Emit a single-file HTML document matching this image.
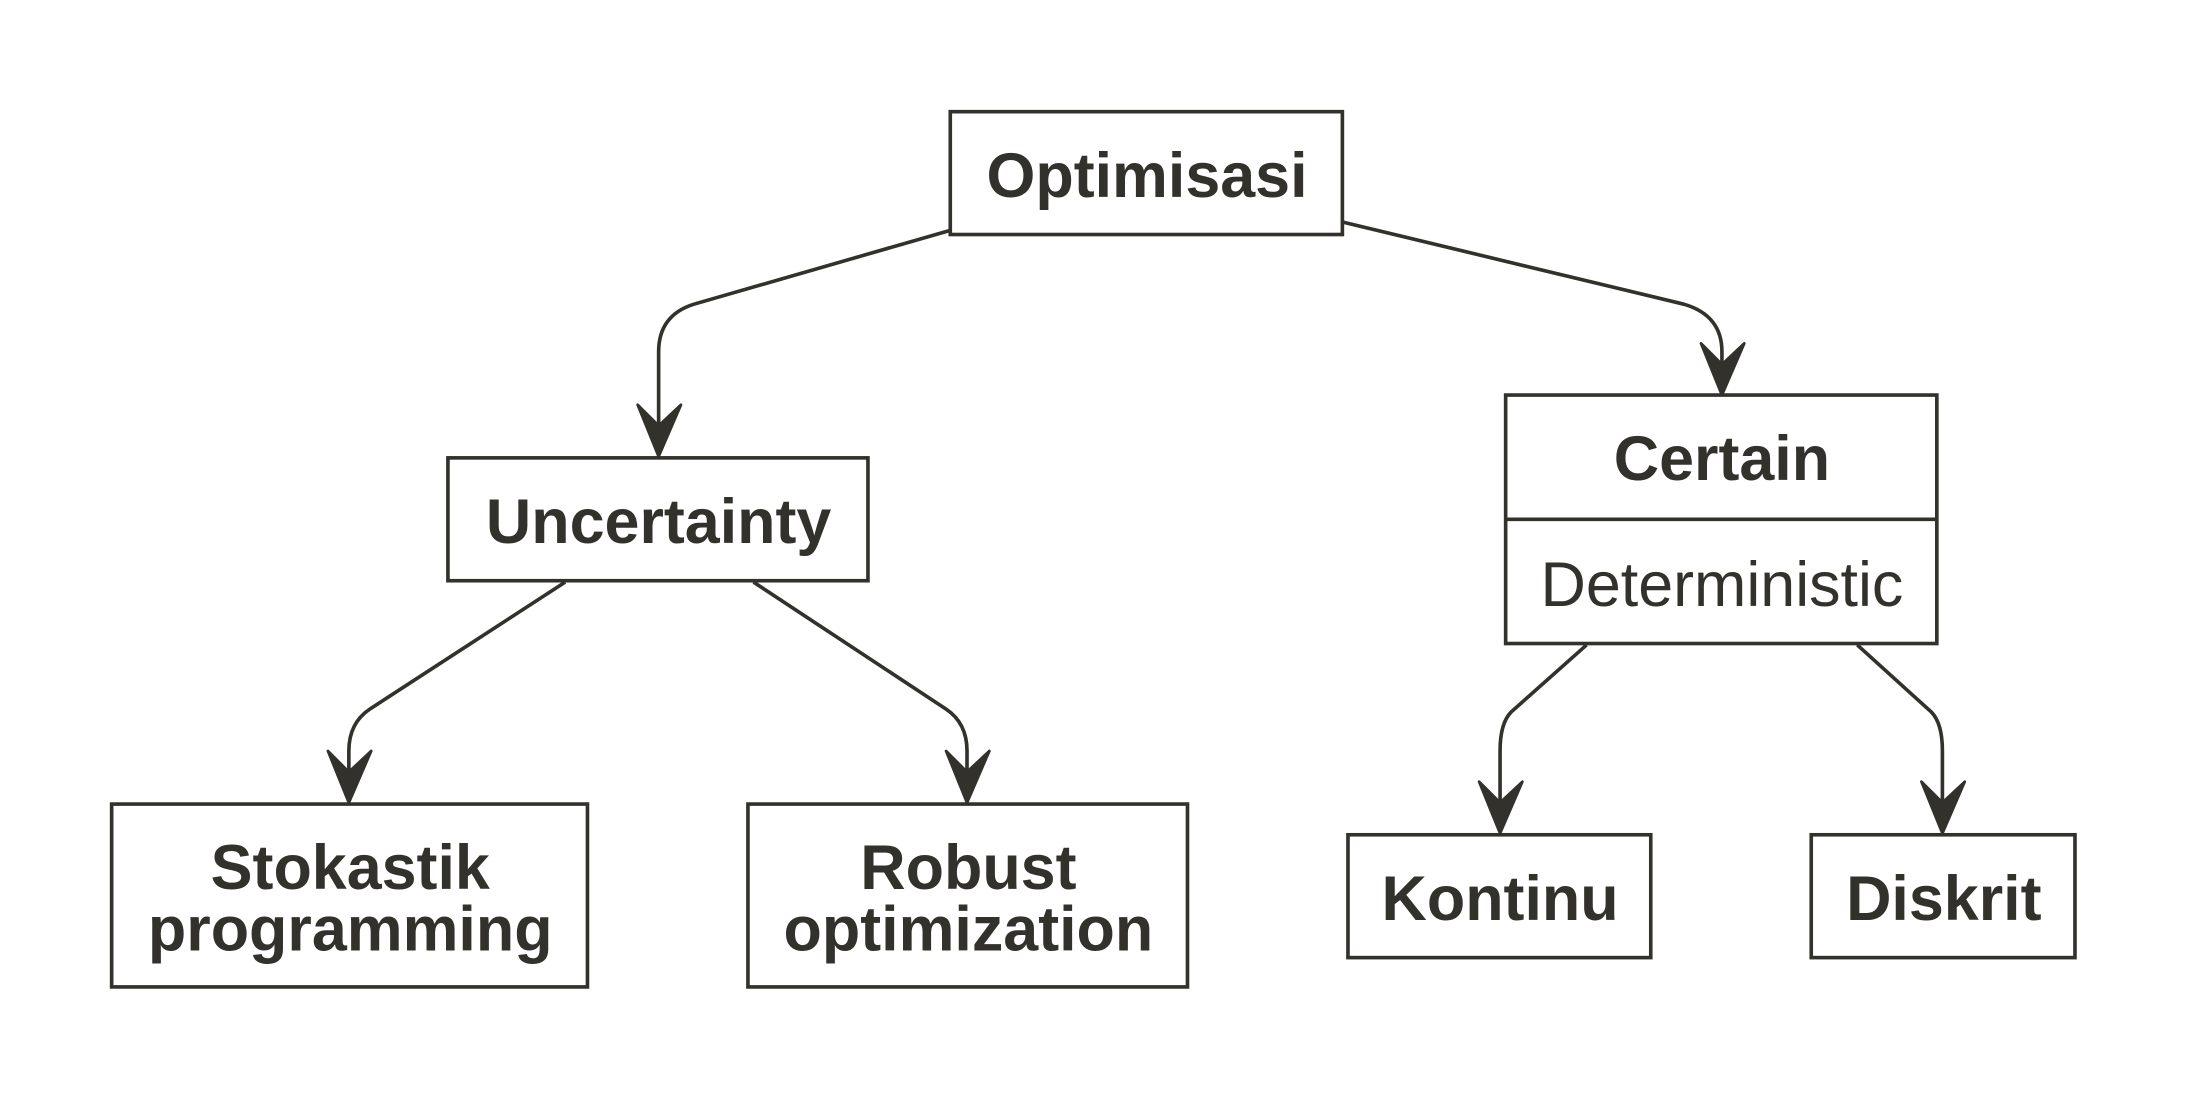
<!DOCTYPE html>
<html><head><meta charset="utf-8"><style>
html,body{margin:0;padding:0;background:#fff;}
svg{display:block;}
text{font-family:"Liberation Sans",Arial,sans-serif;fill:#33312c;}
</style></head><body>
<svg width="2188" height="1100" viewBox="0 0 1568 788" preserveAspectRatio="none" xmlns="http://www.w3.org/2000/svg">
<defs>
<marker id="a" viewBox="0 0 32 40" refX="16" refY="38" markerWidth="32" markerHeight="40" markerUnits="userSpaceOnUse" orient="auto">
</marker>
</defs>
<g fill="#fff" stroke="#33312c" stroke-width="2.6">
<rect x="681" y="80" width="281" height="88"/>
<rect x="321" y="328" width="301" height="88"/>
<rect x="1079" y="283" width="309" height="178"/>
<line x1="1079" y1="372" x2="1388" y2="372"/>
<rect x="80" y="576" width="341" height="131"/>
<rect x="536" y="576" width="315" height="131"/>
<rect x="966" y="598" width="217" height="88"/>
<rect x="1298" y="598" width="189" height="88"/>
</g>
<g fill="none" stroke="#33312c" stroke-width="2.6">
<path d="M681,165 L497,218 Q472,226 472,252 L472,322"/>
<path d="M962,159 L1207,218 Q1234,226 1234,252 L1234,278"/>
<path d="M405,417 L265,508 Q250,518 250,538 L250,570"/>
<path d="M540,417 L678,508 Q693,518 693,538 L693,570"/>
<path d="M1137,462 L1083,510 Q1075,518 1075,538 L1075,592"/>
<path d="M1331,462 L1384,510 Q1392,518 1392,538 L1392,592"/>
</g>
<g fill="#33312c" stroke="#33312c" stroke-width="2" stroke-linejoin="round">
<polygon points="472,327 457,290 472,305 488,290"/>
<polygon points="1234,283 1219,246 1234,261 1250,246"/>
<polygon points="250,575 235,538 250,553 266,538"/>
<polygon points="693,575 678,538 693,553 709,538"/>
<polygon points="1075,597 1060,560 1075,575 1091,560"/>
<polygon points="1392,597 1377,560 1392,575 1408,560"/>
</g>
<g font-weight="bold" font-size="45" text-anchor="middle">
<text x="822" y="141">Optimisasi</text>
<text x="472" y="389">Uncertainty</text>
<text x="1234" y="344">Certain</text>
<text x="251" y="637">Stokastik</text>
<text x="251" y="681">programming</text>
<text x="694" y="637">Robust</text>
<text x="694" y="681">optimization</text>
<text x="1075" y="659">Kontinu</text>
<text x="1393" y="659">Diskrit</text>
</g>
<text x="1234" y="434" font-size="45" text-anchor="middle">Deterministic</text>
</svg>
</body></html>
